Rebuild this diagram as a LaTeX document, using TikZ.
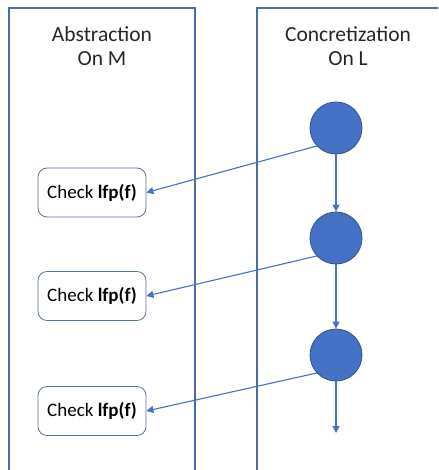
\documentclass[tikz,border=0pt]{standalone}
\usepackage{fontspec}
\setmainfont{Carlito}
\usetikzlibrary{arrows.meta}
\definecolor{lane}{HTML}{4A6BA8}
\definecolor{acc}{HTML}{4472C4}
\definecolor{accdark}{HTML}{2F528F}
\tikzset{
  lanebox/.style={draw=lane, line width=1.2pt},
  title/.style={font=\fontsize{21.5}{24}\selectfont, align=center, text=black!85},
  check/.style={draw=accdark!80, line width=0.8pt, rounded corners=9pt, minimum width=108pt, minimum height=49pt, font=\fontsize{19}{22}\selectfont, inner sep=0pt},
  state/.style={circle, fill=acc, draw=accdark, line width=0.8pt, minimum size=52pt, inner sep=0pt},
  flow/.style={draw=acc, line width=1.1pt, -{Triangle[length=7pt,width=7pt]}},
}
\begin{document}
\begin{tikzpicture}[x=1pt,y=-1pt]
\useasboundingbox (0,0) rectangle (438,470);
\clip (0,0) rectangle (438,470);
\fill[white] (0,0) rectangle (438,470);
\draw[lanebox] (9,480) -- (9,8) -- (195,8) -- (195,480);
\draw[lanebox] (257,480) -- (257,8) -- (445,8) -- (445,480);
\node[title] (t1) at (102,46) {Abstraction\\On M};
\node[title] (t2) at (348,46) {Concretization\\On L};
\node[check] (b1) at (92,192.5) {Check \textbf{lfp(f)}};
\node[check] (b2) at (92,296) {Check \textbf{lfp(f)}};
\node[check] (b3) at (92,411) {Check \textbf{lfp(f)}};
\node[state] (c1) at (336,128) {};
\node[state] (c2) at (336,238) {};
\node[state] (c3) at (336,355) {};
\coordinate (end) at (336,433);
\draw[flow] (c1) -- (c2);
\draw[flow] (c2) -- (c3);
\draw[flow] (c3) -- (end);
\draw[flow] (c1.223) -- (b1.east);
\draw[flow] (c2.223) -- (b2.east);
\draw[flow] (c3.223) -- (b3.east);
\end{tikzpicture}
\end{document}
